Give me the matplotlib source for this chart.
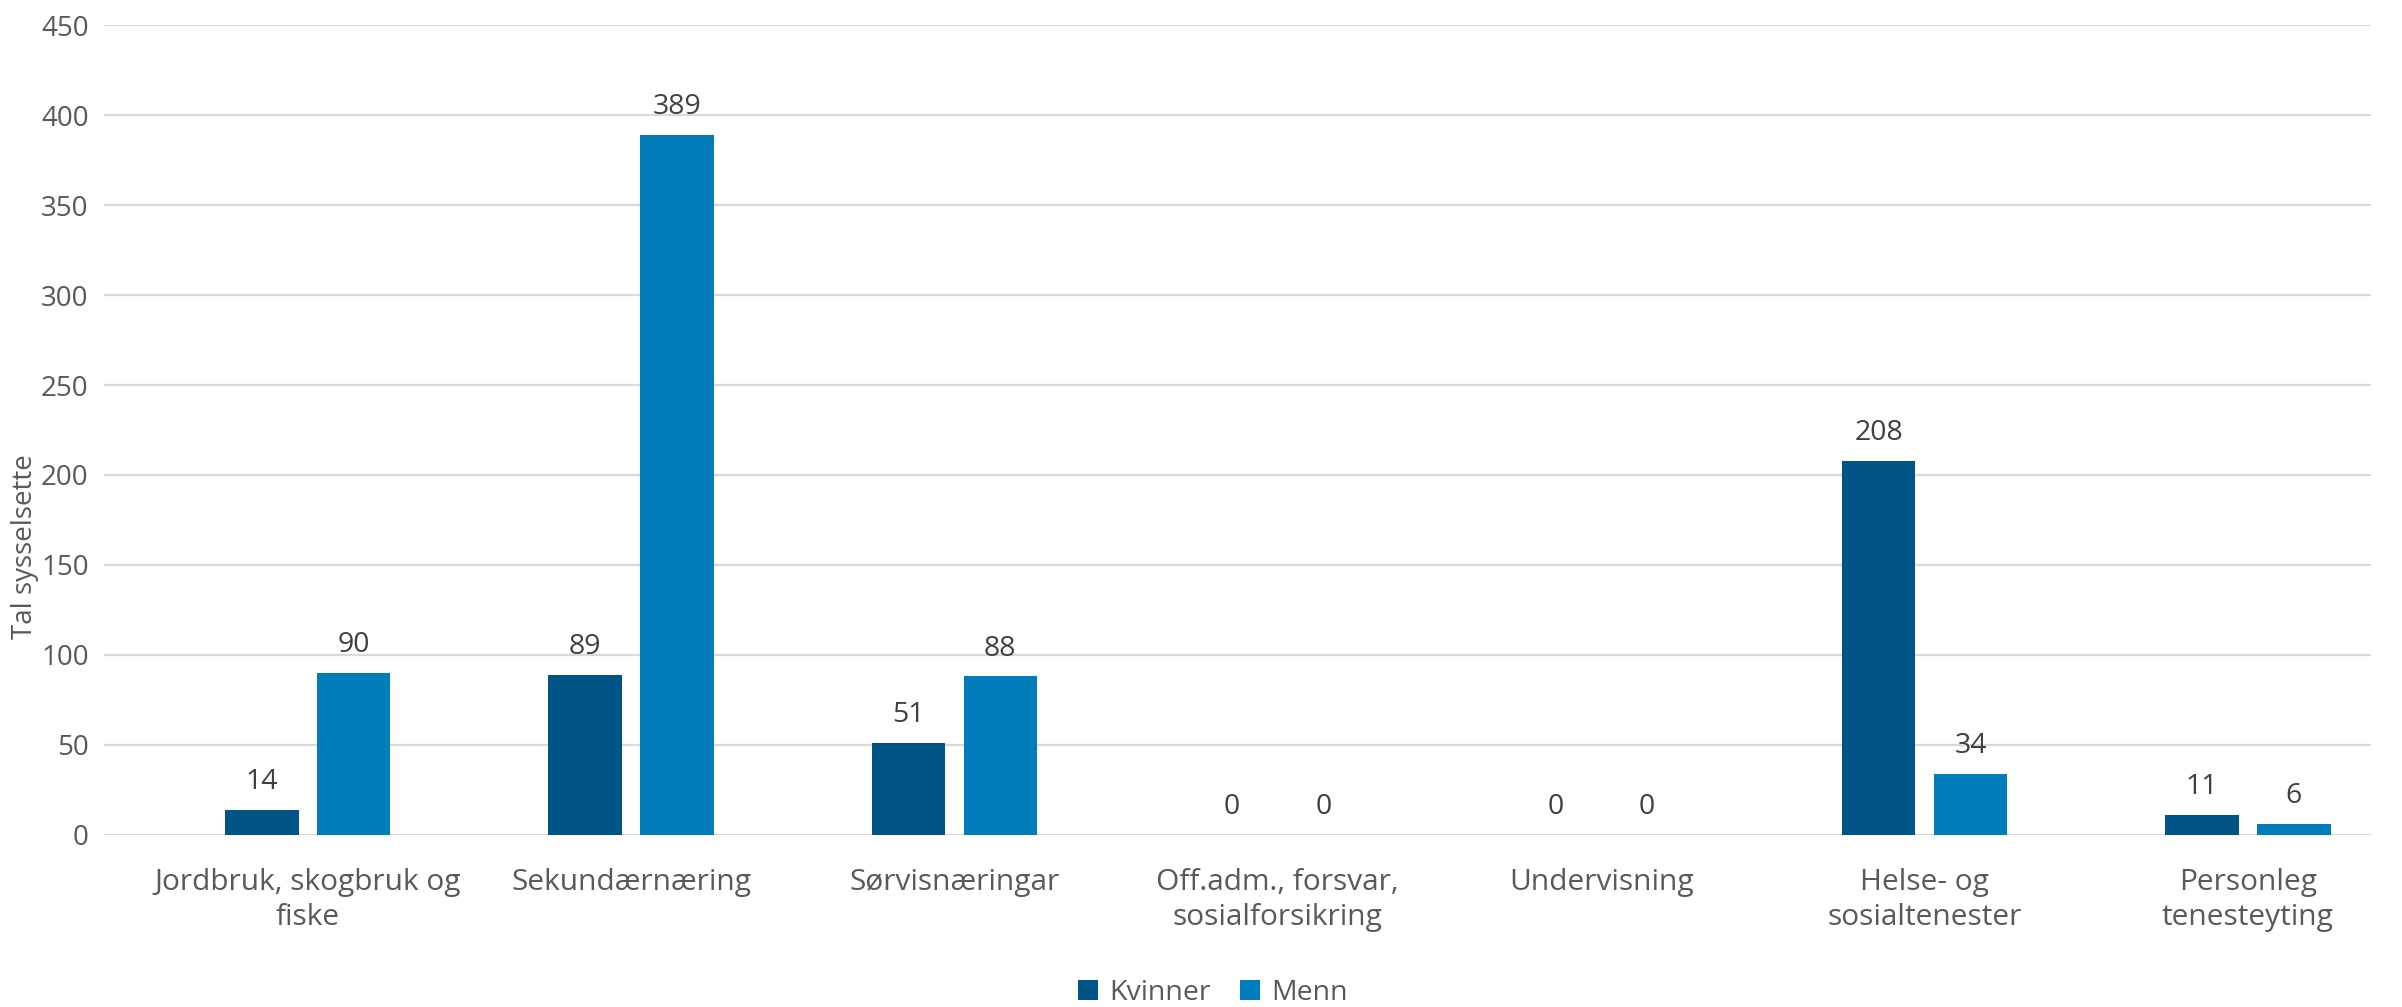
import numpy as np
import matplotlib.pyplot as plt

categories = ["Jordbruk, skogbruk og\nfiske", "Sekundærnæring", "Sørvisnæringar",
              "Off.adm., forsvar,\nsosialforsikring", "Undervisning",
              "Helse- og\nsosialtenester", "Personleg\ntenesteyting"]
kvinner = [14, 89, 51, 0, 0, 208, 11]
menn = [90, 389, 88, 0, 0, 34, 6]
yticks = [0, 50, 100, 150, 200, 250, 300, 350, 400, 450]

c_kv = "#005587"
c_me = "#007DBA"
txt = "#595959"
font = "Open Sans"

fig = plt.figure(figsize=(24.02, 10.07), dpi=100)
ax = fig.add_axes([0.0433, 0.171, 0.9437, 0.804])

x = np.arange(len(categories))
w = 0.227
off = 0.142
b1 = ax.bar(x - off, kvinner, w, color=c_kv, label="Kvinner", zorder=3)
b2 = ax.bar(x + off, menn, w, color=c_me, label="Menn", zorder=3)

for bars in (b1, b2):
    for rect in bars:
        h = rect.get_height()
        ax.annotate(f"{h:g}", (rect.get_x() + rect.get_width() / 2, h),
                    xytext=(0, 10), textcoords="offset points",
                    ha="center", va="bottom", fontsize=20.5,
                    family=font, color="#404040")

ax.set_xlim(-0.63, 6.38)
ax.set_ylim(0, 450)
ax.set_yticks(yticks)
ax.set_yticklabels([str(v) for v in yticks], fontsize=20, family=font, color=txt)
ax.set_xticks(x)
ax.set_xticklabels(categories, fontsize=21.5, family=font, color=txt, linespacing=1.25)
ax.tick_params(axis="both", length=0)
ax.tick_params(axis="x", pad=24)
ax.tick_params(axis="y", pad=11)
ax.grid(axis="y", color="#D9D9D9", linewidth=1.6, zorder=0)
for s in ax.spines.values():
    s.set_visible(False)

fig.text(0.0105, 0.457, "Tal sysselsette", rotation=90, ha="center", va="center",
         fontsize=20, family=font, color=txt)

fig.legend(loc="center", bbox_to_anchor=(0.505, 0.014), ncol=2, frameon=False,
           prop={"family": font, "size": 20.5}, labelcolor=txt,
           handlelength=0.7, handleheight=0.7, handletextpad=0.4, columnspacing=1.0)

plt.savefig("out.png", dpi=100)
